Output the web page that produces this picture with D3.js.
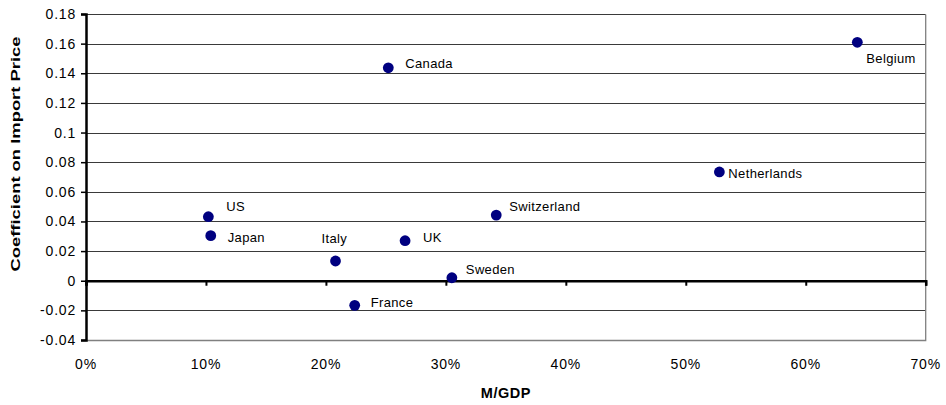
<!DOCTYPE html>
<html>
<head>
<meta charset="utf-8">
<script src="https://cdn.jsdelivr.net/npm/d3@7"></script>
<style>
body { margin: 0; background: #fff; }
svg { display: block; font-family: "Liberation Sans", Arial, sans-serif; }
</style>
</head>
<body>
<svg id="chart" width="946" height="405"></svg>
<script>
// data
var countries = ["US", "Japan", "Italy", "UK", "Sweden", "France", "Switzerland", "Netherlands", "Belgium", "Canada"];
var mgdp      = [0.102, 0.104, 0.208, 0.266, 0.305, 0.224, 0.342, 0.528, 0.643, 0.252];
var coef      = [0.0432, 0.0304, 0.0133, 0.027, 0.002, -0.0166, 0.0443, 0.0734, 0.1609, 0.1437];
var yTicks    = [-0.04, -0.02, 0, 0.02, 0.04, 0.06, 0.08, 0.1, 0.12, 0.14, 0.16, 0.18];
var xTicks    = [0, 0.1, 0.2, 0.3, 0.4, 0.5, 0.6, 0.7];

// where each label sits relative to its point (px)
var labelOffset = [[18, -10], [17, 2], [-14, -23], [18, -3], [14, -8], [16, -3], [13, -9], [9, 1], [9, 16], [17, -4]];

var svg = d3.select("#chart");

var plotLeft = 86, plotRight = 925.7, plotTop = 14, plotBottom = 340;

var x = d3.scaleLinear().domain([0, 0.7]).range([plotLeft, plotRight]);
var y = d3.scaleLinear().domain([-0.04, 0.18]).range([plotBottom, plotTop]);

// gridlines
svg.append("g").selectAll("line")
        .data(yTicks.filter(function(d) { return d != 0 && d != -0.04; }))
        .enter().append("line")
        .attr("x1", plotLeft).attr("x2", plotRight)
        .attr("y1", function(d) { return Math.round(y(d)) + 0.5; })
        .attr("y2", function(d) { return Math.round(y(d)) + 0.5; })
        .attr("stroke", "#3a3a3a")
        .attr("stroke-width", 1);

// plot frame (right + bottom grey)
svg.append("path")
        .attr("d", "M" + plotLeft + "," + (Math.round(plotBottom) + 0.5) + "H" + plotRight + "V" + (Math.round(plotTop) + 0.5))
        .attr("fill", "none")
        .attr("stroke", "#808080")
        .attr("stroke-width", 1.3);

// y axis
var yAxis = d3.axisLeft(y)
        .tickValues(yTicks)
        .tickSize(5)
        .tickPadding(5)
        .tickFormat(function(d) { return String(+d.toFixed(2)); });

var gy = svg.append("g")
        .attr("transform", "translate(" + plotLeft + ",0)")
        .call(yAxis);
gy.select(".domain").attr("stroke", "#000").attr("stroke-width", 2.5);
gy.selectAll(".tick line").attr("stroke", "#000").attr("stroke-width", 1.5);
gy.selectAll(".tick text")
        .attr("font-family", "Liberation Sans, Arial, sans-serif")
        .attr("font-size", 14)
        .attr("letter-spacing", 0.8)
        .attr("fill", "#000");

// x axis along zero
var xAxis = d3.axisBottom(x)
        .tickValues(xTicks)
        .tickSize(5)
        .tickFormat("");

var gx = svg.append("g")
        .attr("transform", "translate(0," + y(0) + ")")
        .call(xAxis);
gx.select(".domain").attr("stroke", "#000").attr("stroke-width", 2.5);
gx.selectAll(".tick line").attr("stroke", "#000").attr("stroke-width", 2);

// x tick labels at the bottom
svg.append("g").selectAll("text")
        .data(xTicks)
        .enter().append("text")
        .attr("x", function(d) { return x(d); })
        .attr("y", 369)
        .attr("text-anchor", "middle")
        .attr("font-size", 14)
        .attr("letter-spacing", 0.8)
        .text(function(d) { return d3.format(".0%")(d); });

// points
svg.append("g").selectAll("circle")
        .data(countries)
        .enter().append("circle")
        .attr("cx", function(d, i) { return x(mgdp[i]); })
        .attr("cy", function(d, i) { return y(coef[i]); })
        .attr("r", 5.4)
        .attr("fill", "#000080");

// labels
svg.append("g").selectAll("text")
        .data(countries)
        .enter().append("text")
        .attr("x", function(d, i) { return x(mgdp[i]) + labelOffset[i][0]; })
        .attr("y", function(d, i) { return y(coef[i]) + labelOffset[i][1]; })
        .attr("dy", "0.35em")
        .attr("font-size", 13)
        .attr("letter-spacing", 0.35)
        .attr("fill", "#000")
        .text(function(d) { return d; });

// axis titles
svg.append("text")
        .attr("x", (plotLeft + plotRight) / 2)
        .attr("y", 398)
        .attr("text-anchor", "middle")
        .attr("font-weight", "bold")
        .attr("font-size", 14.5)
        .attr("letter-spacing", 0.5)
        .text("M/GDP");

svg.append("text")
        .attr("transform", "translate(20,154) rotate(-90)")
        .attr("text-anchor", "middle")
        .attr("font-weight", "bold")
        .attr("font-size", 13.5)
        .attr("textLength", 235)
        .attr("lengthAdjust", "spacingAndGlyphs")
        .text("Coefficient on Import Price");
</script>
</body>
</html>
